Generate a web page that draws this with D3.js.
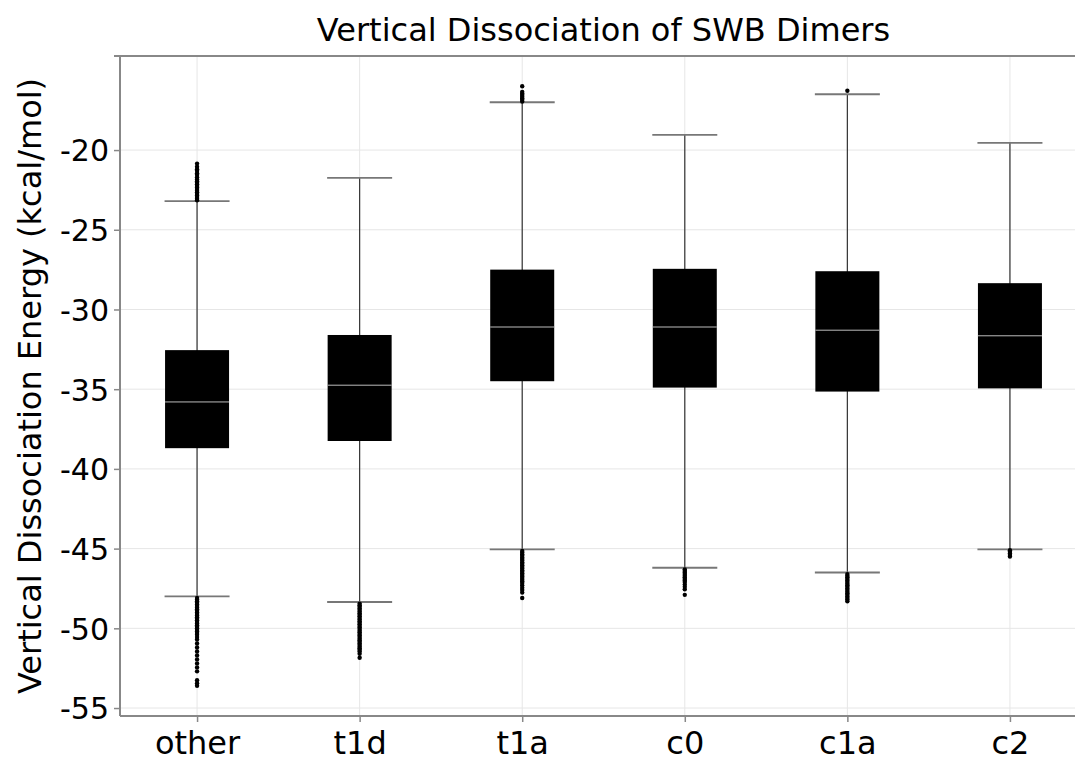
<!DOCTYPE html>
<html lang="en">
<head>
    <meta charset="UTF-8">
    <title>Vertical Dissociation of SWB Dimers</title>
    <script src="https://d3js.org/d3.v7.min.js"></script>
    <style>
        body {margin: 0; background: white;}
        text {font-family: "DejaVu Sans", sans-serif; fill: black;}
    </style>
</head>
<body>
<script>
    const width = 1075;
    const height = 762;
    const margin = {top: 56, right: -12, bottom: 46, left: 120};

    // box stats (kcal/mol)
    const categories = ["other", "t1d", "t1a", "c0", "c1a", "c2"];
    const whiskerHi  = [-23.2, -21.75, -17.0, -19.05, -16.5, -19.55];
    const q3         = [-32.55, -31.6, -27.5, -27.45, -27.6, -28.35];
    const medians    = [-35.8, -34.75, -31.1, -31.1, -31.3, -31.65];
    const q1         = [-38.7, -38.25, -34.5, -34.9, -35.15, -34.95];
    const whiskerLo  = [-48.0, -48.35, -45.05, -46.2, -46.5, -45.05];

    const outliers = [
        [-23.15, -23.05, -22.95, -22.85, -22.75, -22.65, -22.55, -22.45, -22.35, -22.25, -22.15, -22.05,
         -21.95, -21.85, -21.7, -21.55, -21.45, -21.3, -21.2, -21.05, -20.85,
         -48.1, -48.2, -48.3, -48.4, -48.5, -48.6, -48.7, -48.8, -48.9, -49.0, -49.1, -49.2, -49.3,
         -49.4, -49.5, -49.6, -49.7, -49.8, -49.9, -50.0, -50.1, -50.2, -50.3, -50.4, -50.55, -50.7,
         -50.95, -51.2, -51.45, -51.7, -51.95, -52.2, -52.45, -52.7, -53.25, -53.45, -53.6],
        [-48.45, -48.55, -48.65, -48.75, -48.85, -48.95, -49.05, -49.15, -49.25, -49.35, -49.45, -49.55,
         -49.65, -49.75, -49.85, -49.95, -50.05, -50.15, -50.25, -50.35, -50.45, -50.55, -50.65, -50.75,
         -50.85, -50.95, -51.05, -51.15, -51.25, -51.35, -51.45, -51.6, -51.85],
        [-16.95, -16.85, -16.75, -16.65, -16.55, -16.45, -16.35, -16.0,
         -45.15, -45.25, -45.35, -45.45, -45.55, -45.65, -45.75, -45.85, -45.95, -46.05, -46.15, -46.25,
         -46.35, -46.45, -46.55, -46.65, -46.75, -46.85, -46.95, -47.05, -47.15, -47.3, -47.45, -47.6,
         -47.75, -48.1],
        [-46.3, -46.4, -46.5, -46.6, -46.7, -46.8, -46.9, -47.0, -47.1, -47.25, -47.4, -47.55, -47.9],
        [-16.28,
         -46.6, -46.7, -46.8, -46.9, -47.0, -47.1, -47.2, -47.3, -47.4, -47.5, -47.6, -47.7, -47.8,
         -47.9, -48.0, -48.1, -48.2, -48.3],
        [-45.1, -45.2, -45.3, -45.4, -45.5]
    ];

    const yTicks = [-20, -25, -30, -35, -40, -45, -50, -55];

    const svg = d3.select("body").append("svg")
            .attr("width", width).attr("height", height);

    const x = d3.scalePoint()
            .domain(categories)
            .range([margin.left, width - margin.right])
            .padding(0.474);

    const y = d3.scaleLinear()
            .domain([-55.5, -14.1])
            .range([height - margin.bottom, margin.top]);

    // grid
    svg.append("g").selectAll("line.hgrid")
            .data(yTicks).enter().append("line")
            .attr("x1", margin.left).attr("x2", width)
            .attr("y1", d => y(d)).attr("y2", d => y(d))
            .style("stroke", "#e6e6e6").style("stroke-width", 1);

    svg.append("g").selectAll("line.vgrid")
            .data(categories).enter().append("line")
            .attr("x1", d => x(d)).attr("x2", d => x(d))
            .attr("y1", margin.top).attr("y2", height - margin.bottom)
            .style("stroke", "#e6e6e6").style("stroke-width", 1);

    // axes
    const yAxis = svg.append("g")
            .attr("transform", `translate(${margin.left},0)`)
            .call(d3.axisLeft(y).tickValues(yTicks).tickFormat(d => String(d))
                    .tickSize(6).tickPadding(5));
    yAxis.selectAll("text").style("font-size", "30px").attr("dy", "0.36em");

    const xAxis = svg.append("g")
            .attr("transform", `translate(0,${height - margin.bottom})`)
            .call(d3.axisBottom(x).tickSize(6).tickPadding(9));
    xAxis.selectAll("text").style("font-size", "32px");

    svg.selectAll(".domain").style("stroke", "#888").style("stroke-width", 2);
    svg.selectAll(".tick line").style("stroke", "#888").style("stroke-width", 1.5);
    yAxis.select(".domain").attr("d", `M-6,${margin.top}H0V${height - margin.bottom}`);
    xAxis.select(".domain").attr("d", `M${margin.left},0H${width}`);

    // top border
    svg.append("line")
            .attr("x1", margin.left).attr("x2", width)
            .attr("y1", margin.top).attr("y2", margin.top)
            .style("stroke", "#888").style("stroke-width", 2);

    // boxes
    const boxW = 64;
    const capW = 65;
    const boxes = svg.append("g").selectAll("g.box")
            .data(categories).enter().append("g")
            .attr("class", "box");

    boxes.append("line")
            .attr("x1", d => x(d)).attr("x2", d => x(d))
            .attr("y1", (d, i) => y(whiskerHi[i])).attr("y2", (d, i) => y(whiskerLo[i]))
            .style("stroke", "#333").style("stroke-width", 1.2);

    boxes.append("line")
            .attr("x1", d => x(d) - capW / 2).attr("x2", d => x(d) + capW / 2)
            .attr("y1", (d, i) => y(whiskerHi[i])).attr("y2", (d, i) => y(whiskerHi[i]))
            .style("stroke", "#777").style("stroke-width", 1.8);

    boxes.append("line")
            .attr("x1", d => x(d) - capW / 2).attr("x2", d => x(d) + capW / 2)
            .attr("y1", (d, i) => y(whiskerLo[i])).attr("y2", (d, i) => y(whiskerLo[i]))
            .style("stroke", "#777").style("stroke-width", 1.8);

    boxes.append("rect")
            .attr("x", d => x(d) - boxW / 2)
            .attr("width", boxW)
            .attr("y", (d, i) => y(q3[i]))
            .attr("height", (d, i) => y(q1[i]) - y(q3[i]))
            .style("fill", "black");

    boxes.append("line")
            .attr("x1", d => x(d) - boxW / 2).attr("x2", d => x(d) + boxW / 2)
            .attr("y1", (d, i) => y(medians[i])).attr("y2", (d, i) => y(medians[i]))
            .style("stroke", "#bbb").style("stroke-width", 1);

    boxes.selectAll("circle")
            .data((d, i) => outliers[i].map(v => ({cat: d, v: v})))
            .enter().append("circle")
            .attr("cx", d => x(d.cat))
            .attr("cy", d => y(d.v))
            .attr("r", 2.2)
            .style("fill", "black");

    // title and label
    svg.append("text")
            .attr("x", (margin.left + width - margin.right) / 2)
            .attr("y", 41)
            .attr("text-anchor", "middle")
            .style("font-size", "32px")
            .text("Vertical Dissociation of SWB Dimers");

    svg.append("text")
            .attr("transform", `translate(41,${(margin.top + height - margin.bottom) / 2}) rotate(-90)`)
            .attr("text-anchor", "middle")
            .style("font-size", "32px")
            .text("Vertical Dissociation Energy (kcal/mol)");
</script>
</body>
</html>
